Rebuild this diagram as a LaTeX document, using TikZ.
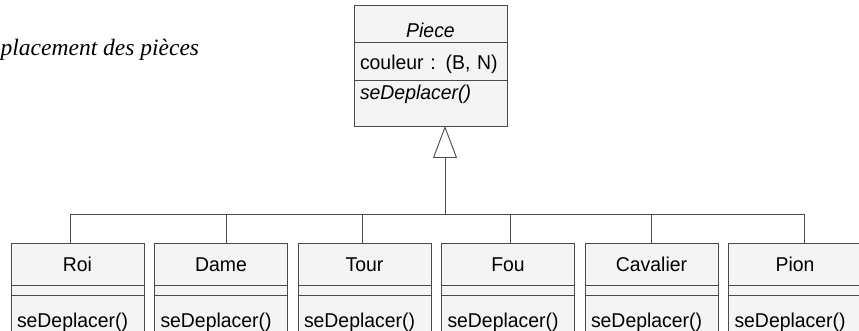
\documentclass[tikz,border=0pt]{standalone}
\usepackage{fontspec}
\newfontfamily\umlfont{Liberation Sans}[FakeStretch=0.97]
\newfontfamily\captionfont{Liberation Serif}
\usetikzlibrary{arrows.meta,positioning}
\definecolor{umlline}{HTML}{4A4A4A}
\definecolor{umlfill}{HTML}{F4F4F4}

\begin{document}
\begin{tikzpicture}[
      x=1pt, y=-1pt,
      compart/.style={draw=umlline, fill=umlfill, line width=0.9pt, inner ysep=0pt, inner xsep=6pt,
                      outer sep=0pt, text width=121pt, font=\fontsize{20}{24}\umlfont},
      piecepart/.style={compart, text width=141pt},
      classname/.style={compart, align=center, text height=28.7pt, text depth=13.3pt},
      classattr/.style={compart, text height=10pt, text depth=0pt},
      classop/.style={compart, align=left, text height=32.3pt, text depth=14pt},
      inherit/.style={-{Triangle[open, length=32pt, width=24pt]}, draw=umlline, line width=0.9pt},
      link/.style={draw=umlline, line width=0.9pt}
    ]
    \useasboundingbox (0,0) rectangle (859,331);
    \clip (0,0) rectangle (859,331);
    \node[font=\fontsize{23.5}{28}\captionfont\itshape, anchor=base west, inner sep=0pt] (caption) at (0.5,55.7) {placement des pièces};
    % classe mere
    \node[piecepart, align=center, text height=32.5pt, text depth=4.5pt] (piece) at (430.5,23.5) {\itshape Piece};
    \node[piecepart, align=left, text height=28pt, text depth=10pt, below=0pt of piece] (piece-attr) {couleur : (B, N)};
    \node[piecepart, align=left, text height=20pt, text depth=26pt, below=0pt of piece-attr] (piece-op) {\itshape seDeplacer()};
    % classes filles
    \node[classname] (roi) at (77.5,264) {Roi};
    \node[classattr, below=0pt of roi] (roi-attr) {};
    \node[classop, below=0pt of roi-attr] (roi-op) {seDeplacer()};
    \node[classname, right=10.5pt of roi] (dame) {Dame};
    \node[classattr, below=0pt of dame] (dame-attr) {};
    \node[classop, below=0pt of dame-attr] (dame-op) {seDeplacer()};
    \node[classname, right=10.5pt of dame] (tour) {Tour};
    \node[classattr, below=0pt of tour] (tour-attr) {};
    \node[classop, below=0pt of tour-attr] (tour-op) {seDeplacer()};
    \node[classname, right=10.5pt of tour] (fou) {Fou};
    \node[classattr, below=0pt of fou] (fou-attr) {};
    \node[classop, below=0pt of fou-attr] (fou-op) {seDeplacer()};
    \node[classname, right=10.5pt of fou] (cavalier) {Cavalier};
    \node[classattr, below=0pt of cavalier] (cavalier-attr) {};
    \node[classop, below=0pt of cavalier-attr] (cavalier-op) {seDeplacer()};
    \node[classname, right=10.5pt of cavalier] (pion) {Pion};
    \node[classattr, below=0pt of pion] (pion-attr) {};
    \node[classop, below=0pt of pion-attr] (pion-op) {seDeplacer()};
    % heritage
    \coordinate (hub) at (445,214);
    \draw[inherit] (hub) -- (hub |- piece-op.south);
    \draw[link] ([xshift=-7.5pt]roi.north) |- (hub);
    \draw[link] ([xshift=5pt]dame.north) |- (hub);
    \draw[link] ([xshift=-2.5pt]tour.north) |- (hub);
    \draw[link] ([xshift=2.5pt]fou.north) |- (hub);
    \draw[link] (cavalier.north) |- (hub);
    \draw[link] ([xshift=9pt]pion.north) |- (hub);
  \end{tikzpicture}
\end{document}
